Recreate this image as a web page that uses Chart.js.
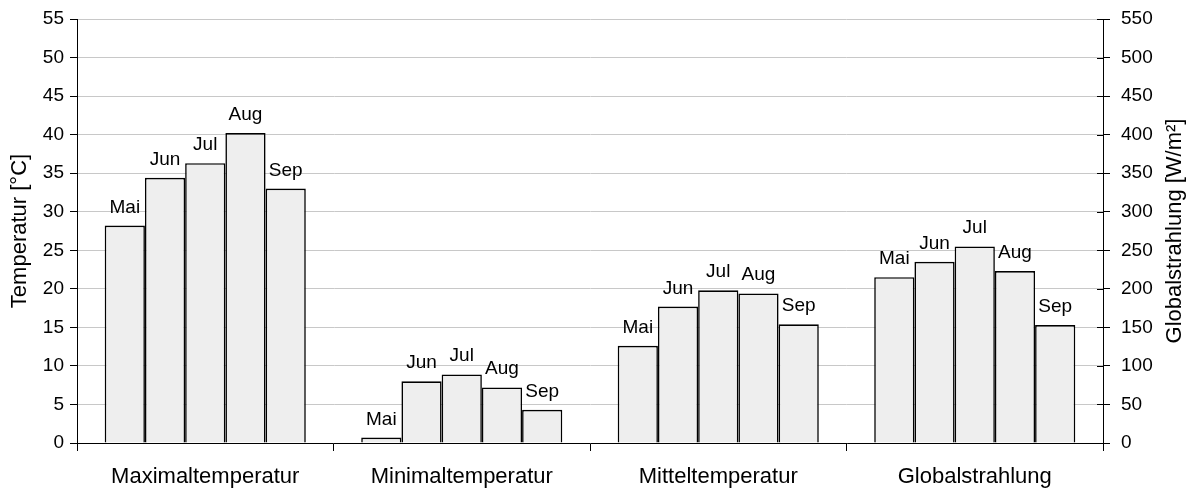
<!DOCTYPE html>
<html>
<head>
<meta charset="utf-8">
<script src="https://cdn.jsdelivr.net/npm/chart.js@4/dist/chart.umd.min.js"></script>
<style>
  body { margin: 0; background: #fff; }
  #wrap { width: 1194px; height: 492px; }
</style>
</head>
<body>
<div id="wrap"><canvas id="chart" width="1194" height="492"></canvas></div>
<script>
const categories = ['Maximaltemperatur', 'Minimaltemperatur', 'Mitteltemperatur', 'Globalstrahlung'];
const months = ['Mai', 'Jun', 'Jul', 'Aug', 'Sep'];
const maxTemp = [28.2, 34.4, 36.3, 40.2, 33.0];
const minTemp = [0.7, 8.0, 8.9, 7.2, 4.3];
const meanTemp = [12.6, 17.7, 19.8, 19.4, 15.4];
const radiation = [215, 235, 255, 223, 153]; // W/m², right axis
const tempMax = 55, tempStep = 5;
const radMax = 550, radStep = 50;

const FONT = "'Liberation Sans', Arial, sans-serif";

const datasets = [];
months.forEach((m, i) => {
  datasets.push({ label: m, data: [maxTemp[i], minTemp[i], meanTemp[i], null], yAxisID: 'y' });
});
months.forEach((m, i) => {
  datasets.push({ label: m, data: [null, null, null, radiation[i]], yAxisID: 'y1' });
});
datasets.forEach(d => {
  d.backgroundColor = '#eeeeee';
  d.borderColor = '#000';
  d.borderWidth = 1.6;
  d.skipNull = true;
  d.barPercentage = 1;
  d.categoryPercentage = 0.784;
});

// month names above each bar
const barLabels = {
  id: 'barLabels',
  afterDatasetsDraw(chart) {
    const { ctx } = chart;
    ctx.save();
    ctx.font = '19px ' + FONT;
    ctx.fillStyle = '#000';
    ctx.textAlign = 'center';
    ctx.textBaseline = 'alphabetic';
    chart.data.datasets.forEach((ds, di) => {
      const meta = chart.getDatasetMeta(di);
      meta.data.forEach((bar, idx) => {
        if (ds.data[idx] == null) return;
        ctx.fillText(ds.label, bar.x, bar.y - 13);
      });
    });
    ctx.restore();
  },
};

// right axis: ticks cross the axis line, title reads bottom-to-top
const rightAxisExtras = {
  id: 'rightAxisExtras',
  afterDraw(chart) {
    const { ctx, chartArea } = chart;
    const s = chart.scales.y1;
    ctx.save();
    ctx.strokeStyle = '#000';
    ctx.lineWidth = 1;
    s.ticks.forEach(t => {
      const y = Math.round(s.getPixelForValue(t.value)) + 0.5;
      ctx.beginPath();
      ctx.moveTo(chartArea.right - 6, y);
      ctx.lineTo(chartArea.right, y);
      ctx.stroke();
    });
    ctx.translate(1175, (chartArea.top + chartArea.bottom) / 2);
    ctx.rotate(-Math.PI / 2);
    ctx.font = '22px ' + FONT;
    ctx.fillStyle = '#000';
    ctx.textAlign = 'center';
    ctx.textBaseline = 'middle';
    ctx.fillText('Globalstrahlung [W/m²]', 0, 0);
    ctx.restore();
  },
};

new Chart(document.getElementById('chart'), {
  type: 'bar',
  data: { labels: categories, datasets },
  options: {
    responsive: false,
    animation: false,
    layout: { padding: { top: 19, left: 0, right: 0, bottom: 0 } },
    plugins: { legend: { display: false }, tooltip: { enabled: false } },
    scales: {
      x: {
        grid: { offset: true, drawOnChartArea: false, tickLength: 8, tickColor: '#000' },
        border: { color: '#000', width: 1 },
        ticks: { color: '#000', font: { family: FONT, size: 22 }, padding: 13 },
        afterFit(scale) { scale.height = 49; },
      },
      y: {
        position: 'left',
        min: 0,
        max: tempMax,
        ticks: { stepSize: tempStep, color: '#000', font: { family: FONT, size: 19 }, padding: 6 },
        grid: { color: '#c8c8c8', tickColor: '#000', tickLength: 7 },
        border: { color: '#000', width: 1 },
        title: { display: true, text: 'Temperatur [°C]', color: '#000', font: { family: FONT, size: 22 }, padding: { top: 7, bottom: 0 } },
        afterFit(scale) { scale.width = 77; scale.paddingTop = 0; scale.paddingBottom = 0; },
      },
      y1: {
        position: 'right',
        min: 0,
        max: radMax,
        ticks: { stepSize: radStep, color: '#000', font: { family: FONT, size: 19 }, padding: 11 },
        grid: { drawOnChartArea: false, tickColor: '#000', tickLength: 7 },
        border: { color: '#000', width: 1 },
        afterFit(scale) { scale.width = 91; scale.paddingTop = 0; scale.paddingBottom = 0; },
      },
    },
  },
  plugins: [barLabels, rightAxisExtras],
});
</script>
</body>
</html>
